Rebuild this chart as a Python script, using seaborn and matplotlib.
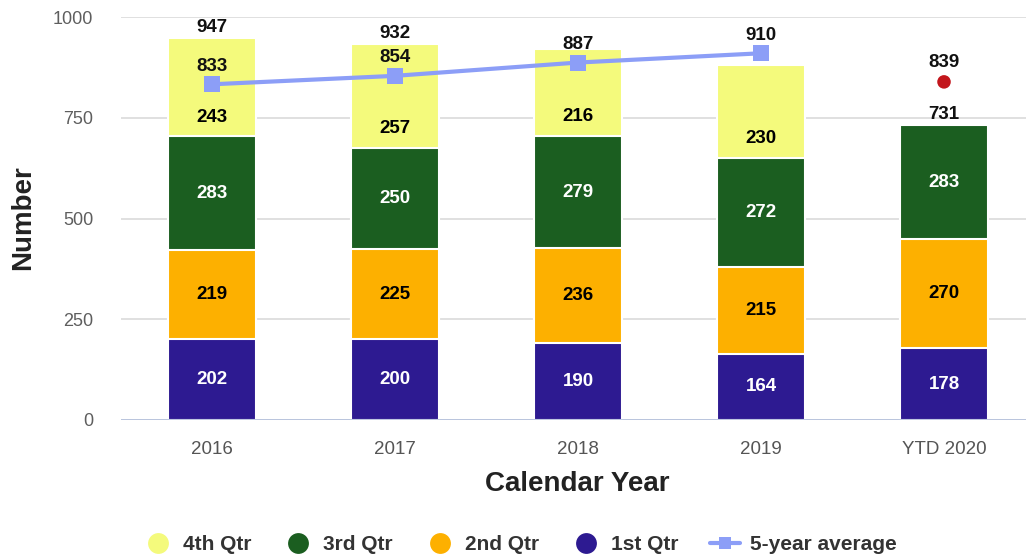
import numpy as np
import pandas as pd
import matplotlib
matplotlib.use("Agg")
import matplotlib.pyplot as plt
from matplotlib.lines import Line2D
import seaborn as sns

# ---- data ----
years = ["2016", "2017", "2018", "2019", "YTD 2020"]
q1 = [202, 200, 190, 164, 178]
q2 = [219, 225, 236, 215, 270]
q3 = [283, 250, 279, 272, 283]
q4 = [243, 257, 216, 230, np.nan]
avg_years = ["2016", "2017", "2018", "2019"]
avg5 = [833, 854, 887, 910]
ytd_projection = 839
show_total = [True, True, False, False, True]

series_names = ["1st Qtr", "2nd Qtr", "3rd Qtr", "4th Qtr"]
series_vals = [q1, q2, q3, q4]
colors = {"1st Qtr": "#2D1A91", "2nd Qtr": "#FDB000", "3rd Qtr": "#1B5E20", "4th Qtr": "#F4FA7C"}
text_colors = {"1st Qtr": "white", "2nd Qtr": "black", "3rd Qtr": "white", "4th Qtr": "black"}
line_color = "#8C9EF7"
red = "#C3161C"

sns.set_theme(style="white")
plt.rcParams["font.family"] = ["Liberation Sans", "DejaVu Sans"]

fig = plt.figure(figsize=(10.26, 5.59), dpi=100)
ax = fig.add_axes([121 / 1026, 139 / 559, 905 / 1026, (420 - 17) / 559])

arr = np.array(series_vals, dtype=float)
filled = np.nan_to_num(arr)
cum = np.cumsum(filled, axis=0)
bottoms = cum - filled
cum_plot = np.where(np.isnan(arr), np.nan, cum)

# draw from top segment downward so lower segments overlay
for k in range(3, -1, -1):
    df = pd.DataFrame({"year": years, "v": cum_plot[k]})
    sns.barplot(data=df, x="year", y="v", order=years, color=colors[series_names[k]],
                saturation=1, width=0.48, edgecolor="white", linewidth=1.5,
                errorbar=None, ax=ax, zorder=3)

px2pt = 72 / 100
# segment labels
for k, name in enumerate(series_names):
    for i in range(len(years)):
        v = arr[k, i]
        if np.isnan(v):
            continue
        if name == "4th Qtr":
            ax.annotate(f"{int(v)}", xy=(i, bottoms[k, i]), xytext=(0, 19 * px2pt),
                        textcoords="offset points", ha="center", va="center",
                        fontsize=13.5, fontweight="bold", color=text_colors[name], zorder=6)
        else:
            ax.text(i, bottoms[k, i] + v / 2, f"{int(v)}", ha="center", va="center",
                    fontsize=13.5, fontweight="bold", color=text_colors[name], zorder=6)

# totals
totals = np.nansum(arr, axis=0)
for i, t in enumerate(totals):
    if show_total[i]:
        ax.annotate(f"{int(t)}", xy=(i, t), xytext=(0, 11 * px2pt), textcoords="offset points",
                    ha="center", va="center", fontsize=13.5, fontweight="bold", color="#111111", zorder=6)

# 5-year average line
xpos = [years.index(y) for y in avg_years]
sns.lineplot(x=xpos, y=avg5, color=line_color, linewidth=3, marker="s", markersize=11,
             markeredgewidth=0, ax=ax, zorder=5)
for x, v in zip(xpos, avg5):
    ax.annotate(f"{v}", xy=(x, v), xytext=(0, 18 * px2pt), textcoords="offset points",
                ha="center", va="center", fontsize=13.5, fontweight="bold", color="#111111", zorder=6)

# YTD projection point
sns.scatterplot(x=[years.index("YTD 2020")], y=[ytd_projection], color=red, s=95,
                edgecolor="none", ax=ax, zorder=5)
ax.annotate(f"{ytd_projection}", xy=(4, ytd_projection), xytext=(0, 19 * px2pt),
            textcoords="offset points", ha="center", va="center", fontsize=13.5,
            fontweight="bold", color="#111111", zorder=6)

# axes styling
ax.set_xlim(-0.497, 4.448)
ax.set_ylim(0, 1000)
ax.set_yticks([0, 250, 500, 750, 1000])
ax.set_xticks(range(len(years)))
ax.set_xticklabels(years)
ax.grid(axis="y", color="#DADADA", linewidth=1.2, zorder=0)
ax.grid(axis="x", visible=False)
ax.set_axisbelow(True)
for s in ax.spines.values():
    s.set_visible(False)
ax.axhline(0, color="#B7C3DD", linewidth=1.3, zorder=4)
ax.tick_params(axis="y", length=0, pad=20, labelsize=13, labelcolor="#5E5E5E")
ax.tick_params(axis="x", length=0, pad=15, labelsize=13.5, labelcolor="#555555")
ax.set_xlabel("")
ax.set_ylabel("")

fig.text(577 / 1026, 1 - 484 / 559, "Calendar Year", ha="center", va="center",
         fontsize=20, fontweight="bold", color="#222222")
fig.text(23 / 1026, 1 - 218 / 559, "Number", ha="center", va="center", rotation=90,
         fontsize=20, fontweight="bold", color="#222222")

# legend
handles = []
labels = []
for name in ["4th Qtr", "3rd Qtr", "2nd Qtr", "1st Qtr"]:
    handles.append(Line2D([], [], linestyle="none", marker="o", markersize=15,
                          markerfacecolor=colors[name], markeredgewidth=0))
    labels.append(name)
handles.append(Line2D([], [], color=line_color, linewidth=3, marker="s", markersize=9,
                      markeredgewidth=0))
labels.append("5-year average")
leg = fig.legend(handles, labels, loc="center", bbox_to_anchor=(520 / 1026, 1 - 545 / 559),
                 ncol=5, frameon=False, handlelength=1.4, handletextpad=0.5,
                 columnspacing=1.55, prop={"size": 15, "weight": "bold"})
for t in leg.get_texts():
    t.set_color("#333333")

fig.savefig("out.png", dpi=100)
